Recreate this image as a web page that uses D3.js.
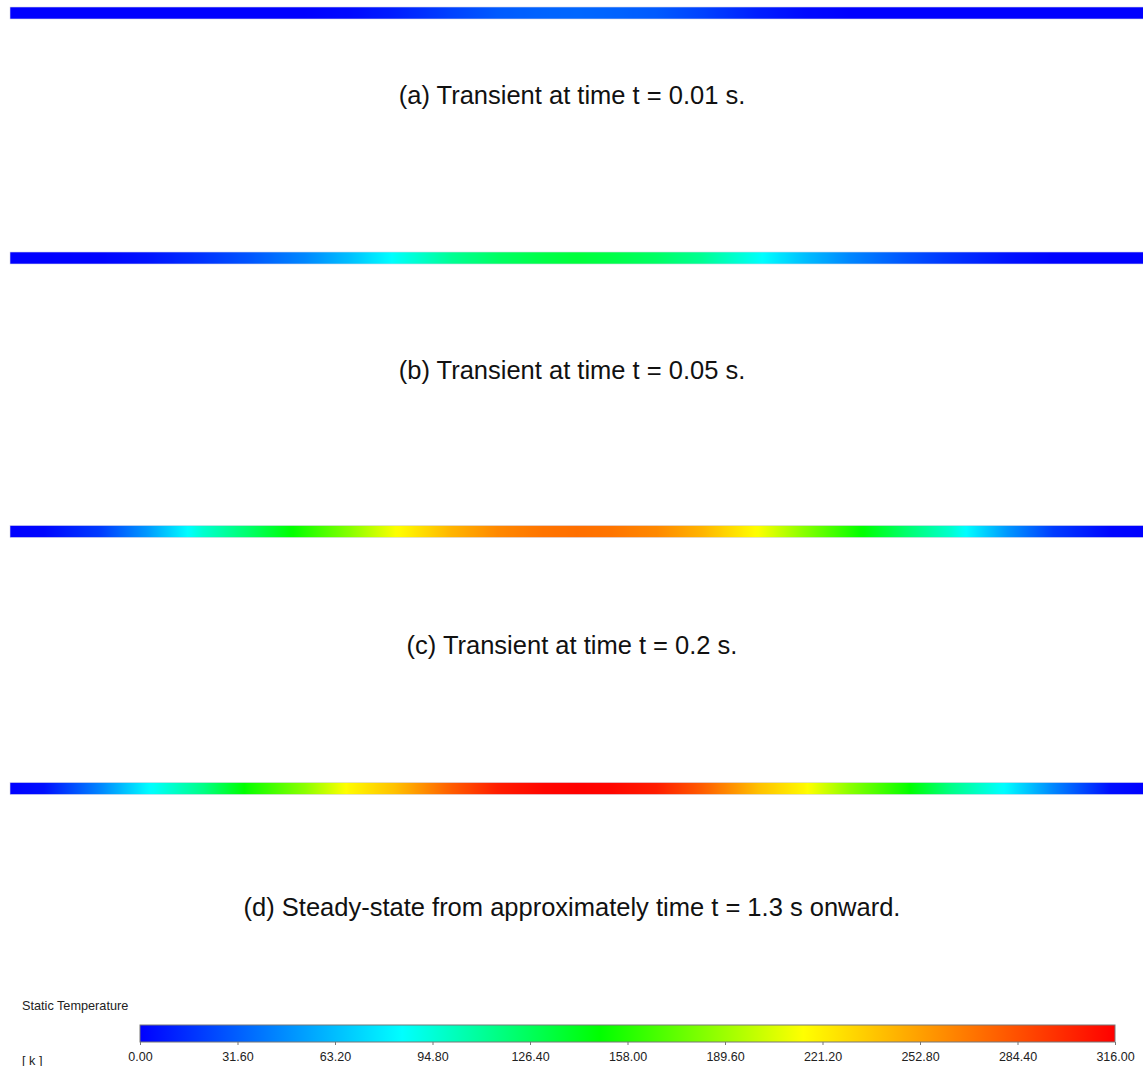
<!DOCTYPE html>
<html><head><meta charset="utf-8">
<script src="https://cdn.jsdelivr.net/npm/d3@7"></script>
<style>html,body{margin:0;padding:0;background:#fff;}svg{display:block;}</style>
</head><body>
<script>
// position along the rod (fraction of length)
const positions = [0,0.03,0.08,0.12,0.17,0.21,0.26,0.30,0.34,0.39,0.43,0.47,0.50,0.53,0.57,0.61,0.66,0.70,0.74,0.79,0.83,0.88,0.92,0.97,1.0];
// static temperature [K] at each position
const tempA = [0,0,0,0,0,0,0,3,10,22,30,33,34,33,30,22,10,3,0,0,0,0,0,0,0];
const tempB = [0,0,1,6,17,28,45,64,87,112,124,131,134,131,124,112,87,64,45,28,17,6,1,0,0];
const tempC = [0,2,20,50,97,122,157,184,214,245,262,270,272,270,262,245,214,184,157,122,97,50,20,2,0];
const tempD = [0,5,45,82,115,152,185,218,240,280,305,314,316,314,305,280,240,218,185,152,115,82,45,5,0];
const captions = ["(a) Transient at time t = 0.01 s.","(b) Transient at time t = 0.05 s.","(c) Transient at time t = 0.2 s.","(d) Steady-state from approximately time t = 1.3 s onward."];
// colormap
const cmapValues = [0, 85, 149, 215, 316];
const cmapColors = ["#0000ff","#00ffff","#00ff00","#ffff00","#ff0000"];
const tickLabels = ["0.00","31.60","63.20","94.80","126.40","158.00","189.60","221.20","252.80","284.40","316.00"];
const legendTitle = "Static Temperature";
const unitLabel = "[ k ]";

const W = 1143, H = 1066;
const svg = d3.select("body").append("svg").attr("width", W).attr("height", H);
const defs = svg.append("defs");
const color = d3.scaleLinear().domain(cmapValues).range(cmapColors).interpolate(d3.interpolateRgb).clamp(true);
const xRod = d3.scaleLinear().domain([0,1]).range([10, 1144]);

const series = [tempA, tempB, tempC, tempD];
const stripY = [7, 252, 525.5, 782.5];
const capY = [104, 379, 654, 916];
const stripH = 12;

series.forEach((temps, i) => {
  const tAt = d3.scaleLinear().domain(positions).range(temps);
  const gid = "g" + i;
  const g = defs.append("linearGradient").attr("id", gid).attr("x1","0%").attr("x2","100%").attr("y1","0%").attr("y2","0%");
  const N = 300;
  d3.range(N + 1).forEach(k => {
    const p = k / N;
    g.append("stop").attr("offset", (p*100) + "%").attr("stop-color", color(tAt(p)));
  });
  svg.append("rect").attr("x", xRod(0)).attr("y", stripY[i]).attr("width", xRod(1) - xRod(0)).attr("height", stripH)
    .attr("fill", `url(#${gid})`).attr("stroke", "#d8d8e8").attr("stroke-width", 0.6);
  svg.append("text").attr("x", 572).attr("y", capY[i]).attr("text-anchor","middle")
    .attr("font-family","Liberation Sans, Arial, sans-serif").attr("font-size", 25.5).attr("fill","#111")
    .text(captions[i]);
});

// colorbar
const lx = d3.scaleLinear().domain([0, 316]).range([140, 1115]);
const lg = defs.append("linearGradient").attr("id","lg").attr("x1","0%").attr("x2","100%").attr("y1","0%").attr("y2","0%");
cmapValues.forEach(v => lg.append("stop").attr("offset", (v/316*100)+"%").attr("stop-color", color(v)));
svg.append("rect").attr("x", lx(0)).attr("y", 1025).attr("width", lx(316)-lx(0)).attr("height", 17)
  .attr("fill","url(#lg)").attr("stroke","#777").attr("stroke-width",1);
const axis = d3.axisBottom(lx).tickValues(tickLabels.map(Number)).tickSize(3).tickFormat((d,i)=>tickLabels[i]);
const ax = svg.append("g").attr("transform","translate(0,1042)").call(axis);
ax.select(".domain").remove();
ax.selectAll(".tick line").attr("stroke","#777");
ax.selectAll("text").attr("font-family","Liberation Sans, Arial, sans-serif").attr("font-size",12.5).attr("fill","#222").attr("dy","1.0em");
svg.append("text").attr("x",22).attr("y",1010).attr("font-family","Liberation Sans, Arial, sans-serif").attr("font-size",12.7).attr("fill","#222").text(legendTitle);
svg.append("text").attr("x",22).attr("y",1065).attr("font-family","Liberation Sans, Arial, sans-serif").attr("font-size",12.7).attr("fill","#222").text(unitLabel);
</script>
</body></html>
